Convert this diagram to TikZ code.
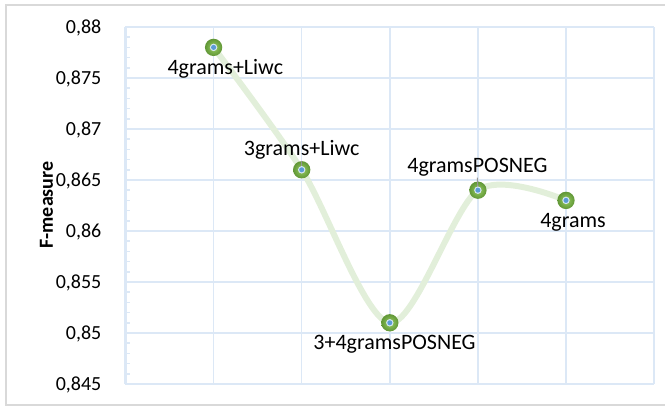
\documentclass[tikz,border=0pt]{standalone}
\usepackage{fontspec}
\setmainfont{Carlito}
\usetikzlibrary{positioning,calc}

\definecolor{gridblue}{RGB}{220,232,246}
\definecolor{framegray}{RGB}{217,217,217}
\definecolor{trendgreen}{RGB}{226,239,218}
\definecolor{markdark}{RGB}{96,150,54}
\definecolor{marklight}{RGB}{152,206,98}
\definecolor{markblue}{RGB}{91,155,213}
\definecolor{leadgray}{RGB}{150,150,150}

\begin{document}
\begin{tikzpicture}[x=0.75pt, y=0.75pt,
  frame/.style={framegray, line width=1.5pt},
  gridline/.style={gridblue, line width=1.1pt},
  axisline/.style={gridblue, line width=2.6pt},
  minortick/.style={gridblue, line width=1.1pt},
  ticklabel/.style={anchor=base east, xshift=-14.6pt, yshift=-4.7pt, font=\fontsize{15}{18}\selectfont},
  axistitle/.style={anchor=base, rotate=90, font=\fontsize{15}{18}\selectfont\bfseries},
  datalabel/.style={anchor=base, inner sep=1pt, font=\fontsize{16.5}{19}\selectfont},
  trend/.style={trendgreen, line width=4.5pt, line cap=round},
  marker/.style={circle, minimum size=13pt, inner sep=0pt, shading=radial, inner color=marklight, outer color=markdark},
  leader/.style={leadgray, line width=0.8pt}]

\useasboundingbox (-125.5,-22) rectangle (539.5,384);
% chart area border (its right side runs off the page)
\draw[frame] (545,-21) -- (-119.5,-21) -- (-119.5,379) -- (545,379);

\begin{scope}[x=66.075pt, y=7.65pt]
  % grid, axis and minor ticks
  \foreach \k in {1,...,6} \draw[gridline] (\k,0) -- (\k,35);
  \foreach \k in {0,...,7} \draw[gridline] (0,5*\k) -- (6,5*\k);
  \draw[axisline] (0,0) -- (0,35);
  \foreach \k in {0,...,35} \draw[minortick] (0,\k) -- ++(3.75pt,0);
  \foreach \v/\t in {0/{0,845}, 5/{0,85}, 10/{0,855}, 15/{0,86}, 20/{0,865}, 25/{0,87}, 30/{0,875}, 35/{0,88}}
    \node[ticklabel] (tick\v) at (0,\v) {\t};

  % values in thousandths above 0,845
  \foreach \v [count=\i] in {33,21,6,19,18}
    \coordinate (c\i) at (\i,\v);
\end{scope}

\draw[trend] plot[smooth, tension=0.5] coordinates {(c1) (c2) (c3) (c4) (c5)};
\foreach \i in {1,...,5} \node[marker] (p\i) at (c\i) {};

\node[axistitle] (ytitle) at (-72.5,179) {F-measure};

\node[datalabel] (l1) at (99.8,309) {4grams+Liwc};
\node[datalabel] (l2) at (176.2,228.5) {3grams+Liwc};
\node[datalabel] (l3) at (269,34) {3+4gramsPOSNEG};
\node[datalabel] (l4) at (351.9,211.7) {4gramsPOSNEG};
\node[datalabel] (l5) at (447.5,156.7) {4grams};

\draw[leader] (l2.south) -- (p2.center);
\draw[leader] (l4.south) -- (p4.center);

\foreach \i in {1,...,5} {
  \fill[white!75!markblue] (p\i) circle (2.8pt);
  \fill[markblue] (p\i) circle (1.9pt);
}
\end{tikzpicture}
\end{document}
